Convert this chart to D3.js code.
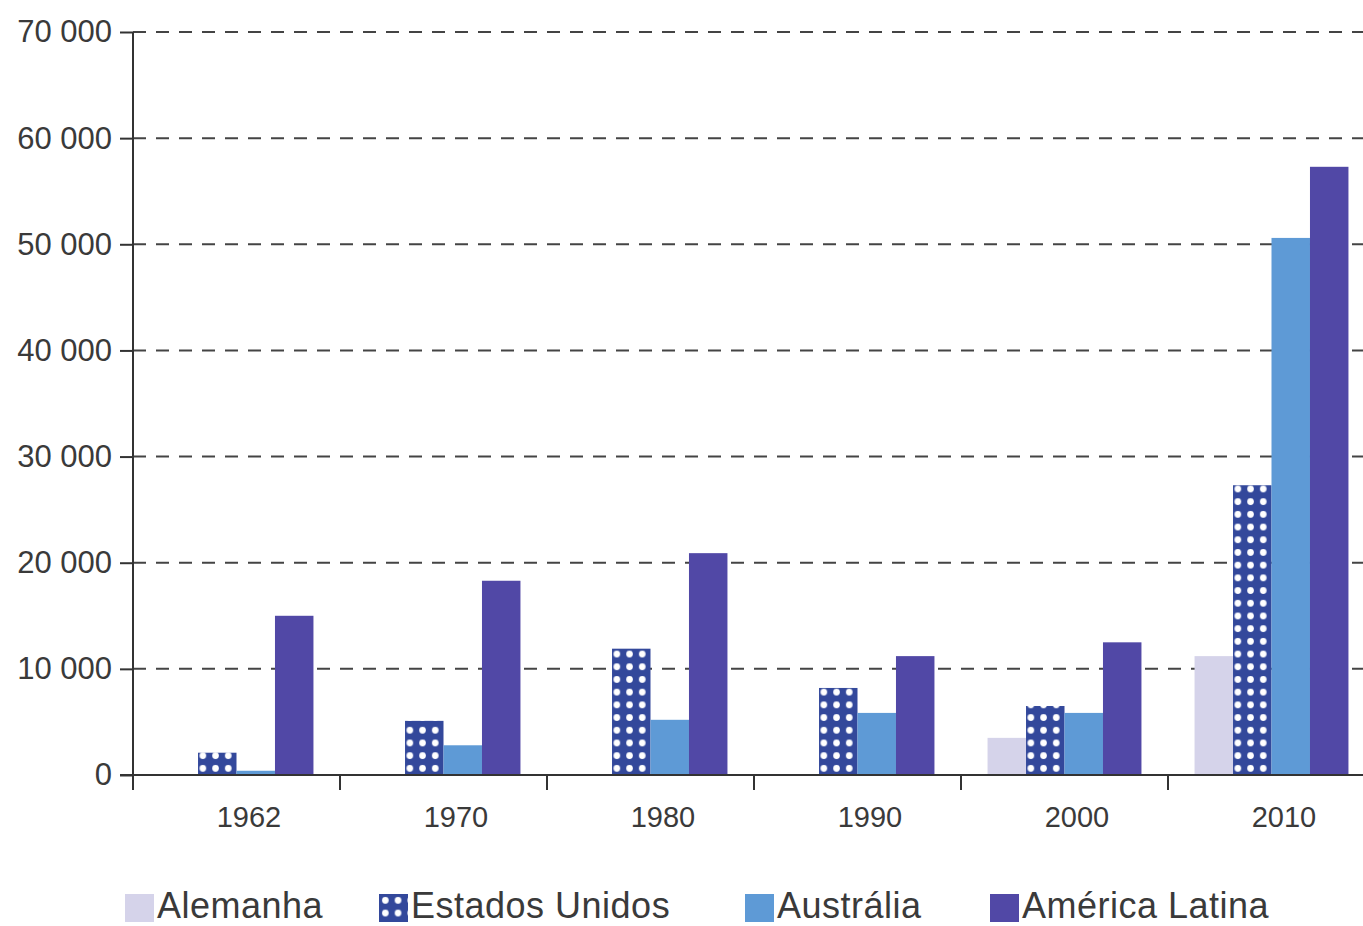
<!DOCTYPE html>
<html>
<head>
<meta charset="utf-8">
<script src="https://cdn.jsdelivr.net/npm/d3@7"></script>
<style>
  body { margin: 0; background: #fff; }
  svg { display: block; font-family: "Liberation Sans", Arial, sans-serif; }
</style>
</head>
<body>
<script>
// data
var years = ["1962", "1970", "1980", "1990", "2000", "2010"];
var series = ["Alemanha", "Estados Unidos", "Austrália", "América Latina"];
var alemanha = [0, 0, 0, 0, 3500, 11200];
var estadosUnidos = [2100, 5100, 11900, 8200, 6500, 27300];
var australia = [400, 2800, 5200, 5850, 5850, 50600];
var americaLatina = [15000, 18300, 20900, 11200, 12500, 57300];
var yTicks = [0, 10000, 20000, 30000, 40000, 50000, 60000, 70000];

var values = [alemanha, estadosUnidos, australia, americaLatina];
var fills = ["#d5d3ea", "url(#dots)", "#5e9ad6", "#5148a6"];

var width = 1363, height = 926;
var svg = d3.select("body").append("svg")
    .attr("width", width)
    .attr("height", height);

// dotted pattern for Estados Unidos
var pat = svg.append("defs").append("pattern")
    .attr("id", "dots")
    .attr("patternUnits", "userSpaceOnUse")
    .attr("width", 12.7)
    .attr("height", 12.7);
pat.append("rect").attr("width", 12.7).attr("height", 12.7).attr("fill", "#33489b");
pat.append("circle").attr("cx", 6.35).attr("cy", 6.35).attr("r", 3.3).attr("fill", "#fff");

var x = d3.scaleBand().domain(years).range([133, 1375]);
var xi = d3.scaleBand().domain(series).range([0, x.bandwidth()]).paddingOuter(0.69);
var y = d3.scaleLinear().domain([0, 70000]).range([775, 32]);

var fmt = d3.formatLocale({ decimal: ",", thousands: " ", grouping: [3], currency: ["", ""] }).format(",");

// dashed gridlines
svg.append("g")
    .selectAll("line")
    .data(yTicks.filter(function(d) { return d > 0; }))
    .enter()
    .append("line")
    .attr("x1", 133)
    .attr("x2", width)
    .attr("y1", function(d) { return y(d); })
    .attr("y2", function(d) { return y(d); })
    .attr("stroke", "#444")
    .attr("stroke-width", 2)
    .attr("stroke-dasharray", "13,10");

// bars
var group = svg.append("g")
    .selectAll("g")
    .data(years)
    .enter()
    .append("g")
    .attr("transform", function(d) { return "translate(" + x(d) + ",0)"; });

group.selectAll("rect")
    .data(function(d, i) {
        return series.map(function(s, j) { return { s: s, v: values[j][i], j: j }; });
    })
    .enter()
    .append("rect")
    .attr("x", function(d) { return xi(d.s); })
    .attr("width", xi.bandwidth())
    .attr("y", function(d) { return y(d.v); })
    .attr("height", function(d) { return y(0) - y(d.v); })
    .attr("fill", function(d) { return fills[d.j]; });

// y axis
var yAxis = svg.append("g")
    .attr("transform", "translate(133,0)")
    .call(d3.axisLeft(y).tickValues(yTicks).tickSize(13).tickPadding(8).tickFormat(fmt));
yAxis.select(".domain").remove();
yAxis.append("line").attr("x1", 0).attr("x2", 0).attr("y1", 32).attr("y2", 790)
    .attr("stroke", "#333").attr("stroke-width", 2);
yAxis.selectAll(".tick line").attr("stroke", "#333").attr("stroke-width", 2);
yAxis.selectAll("text").attr("fill", "#3a3a3a").attr("font-size", 31)
    .attr("font-family", "Liberation Sans, Arial, sans-serif");

// x axis
var xAxis = svg.append("g").attr("transform", "translate(0,775)");
xAxis.append("line").attr("x1", 120).attr("x2", width).attr("y1", 0).attr("y2", 0)
    .attr("stroke", "#333").attr("stroke-width", 2);
xAxis.selectAll(".bound")
    .data(years.slice(1))
    .enter()
    .append("line")
    .attr("class", "bound")
    .attr("x1", function(d) { return x(d); })
    .attr("x2", function(d) { return x(d); })
    .attr("y1", 0)
    .attr("y2", 15)
    .attr("stroke", "#333")
    .attr("stroke-width", 2);
xAxis.selectAll("text")
    .data(years)
    .enter()
    .append("text")
    .attr("x", function(d) { return x(d) + 116; })
    .attr("y", 52)
    .attr("text-anchor", "middle")
    .attr("font-size", 29)
    .attr("fill", "#3a3a3a")
    .text(function(d) { return d; });

// legend
var legendX = [125, 379, 745, 990];
var leg = svg.append("g")
    .selectAll("g")
    .data(series)
    .enter()
    .append("g")
    .attr("transform", function(d, i) { return "translate(" + legendX[i] + ",894)"; });
leg.append("rect")
    .attr("width", 29)
    .attr("height", 28)
    .attr("fill", function(d, i) { return fills[i]; });
leg.append("text")
    .attr("x", 32)
    .attr("y", 24)
    .attr("font-size", 36)
    .attr("letter-spacing", 0.5)
    .attr("fill", "#3a3a3a")
    .text(function(d) { return d; });
</script>
</body>
</html>
